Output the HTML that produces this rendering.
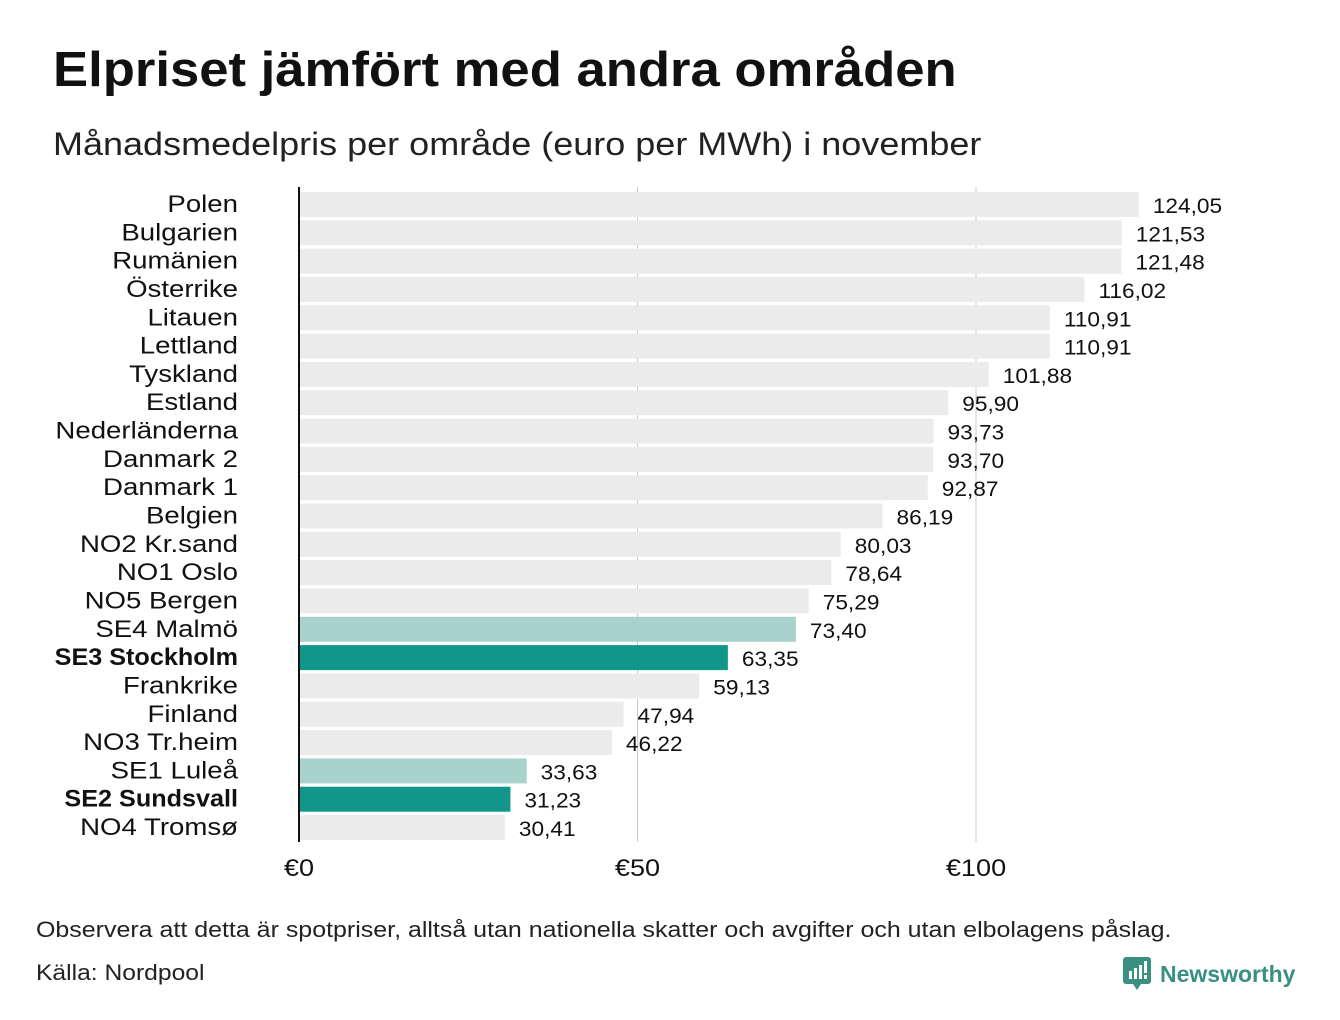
<!DOCTYPE html>
<html><head><meta charset="utf-8"><style>
body{margin:0;width:1340px;height:1020px;background:#fff;font-family:"Liberation Sans","DejaVu Sans",sans-serif;color:#111;position:relative;overflow:hidden}
.t{position:absolute;white-space:nowrap;transform-origin:0 0}
</style></head><body>
<div class="t" style="left:53px;top:42px;font-size:49px;font-weight:bold;transform:scaleX(1.074)">Elpriset jämfört med andra områden</div>
<div class="t" style="left:53px;top:126px;font-size:32px;color:#222;transform:scaleX(1.125)">Månadsmedelpris per område (euro per MWh) i november</div>
<svg id="chart" width="1340" height="900" style="position:absolute;left:0;top:0"></svg>
<div class="t" style="left:36px;top:917px;font-size:22px;color:#222;transform:scaleX(1.135)">Observera att detta är spotpriser, alltså utan nationella skatter och avgifter och utan elbolagens påslag.</div>
<div class="t" style="left:36px;top:960px;font-size:22px;color:#222;transform:scaleX(1.12)">Källa: Nordpool</div>
<div class="t" style="left:1123px;top:957px;display:flex;align-items:center">
<svg width="28" height="34" viewBox="0 0 28 34"><rect x="0" y="0" width="28" height="27" rx="3" fill="#3a8f83"/><path d="M10 27 L14 33 L18 27Z" fill="#3a8f83"/><rect x="6" y="14" width="3" height="8" fill="#fff"/><rect x="11" y="11" width="3" height="11" fill="#fff"/><rect x="16" y="8" width="3" height="14" fill="#fff"/><rect x="21" y="4" width="3" height="12" fill="#fff"/><rect x="21" y="18" width="3" height="4" fill="#fff"/></svg>
<span style="font-size:23px;font-weight:bold;color:#3a8f83;margin-left:9px">Newsworthy</span></div>
<script>
const categories=["Polen","Bulgarien","Rumänien","Österrike","Litauen","Lettland","Tyskland","Estland","Nederländerna","Danmark 2","Danmark 1","Belgien","NO2 Kr.sand","NO1 Oslo","NO5 Bergen","SE4 Malmö","SE3 Stockholm","Frankrike","Finland","NO3 Tr.heim","SE1 Luleå","SE2 Sundsvall","NO4 Tromsø"];
const values=[124.05,121.53,121.48,116.02,110.91,110.91,101.88,95.90,93.73,93.70,92.87,86.19,80.03,78.64,75.29,73.40,63.35,59.13,47.94,46.22,33.63,31.23,30.41];
const highlight=["","","","","","","","","","","","","","","","light","dark","","","","light","dark",""];
const ticks=[0,50,100];
const tickLabels=["€0","€50","€100"];
const svg=document.getElementById('chart');
const NS='http://www.w3.org/2000/svg';
const x=v=>299+v*6.77;
const y=i=>192+i*28.32;
function el(t,a){const e=document.createElementNS(NS,t);for(const k in a)e.setAttribute(k,a[k]);svg.appendChild(e);return e;}
ticks.forEach((t,i)=>{
 if(t>0){const g=el('line',{x1:x(t),x2:x(t),y1:187,y2:842,stroke:'#c9c9d6','stroke-width':1});
 
 }
 const l=el('text',{x:0,y:0,transform:'translate('+x(t)+',876) scale(1.13,1)','font-size':24,'text-anchor':'middle',fill:'#111','font-family':'Liberation Sans, sans-serif'});
 l.textContent=tickLabels[i];
 
 
});
categories.forEach((c,i)=>{
 const col=highlight[i]==='dark'?'#13968a':highlight[i]==='light'?'#a8d2cb':'#ebebeb';
 const b=el('rect',{x:x(0),y:y(i),width:x(values[i])-x(0),height:25,fill:col});
 
 
 const bold=highlight[i]==='dark';
 const lb=el('text',{x:0,y:0,transform:'translate(238,'+(y(i)+20)+') scale('+(bold?1.05:1.15)+',1)','font-size':24,'text-anchor':'end',fill:'#111','font-weight':bold?'bold':'normal','font-family':'Liberation Sans, sans-serif'});
 lb.textContent=c;
 
 
 const vl=el('text',{x:0,y:0,transform:'translate('+(x(values[i])+14)+','+(y(i)+21)+') scale(1.08,1)','font-size':21,fill:'#111','font-family':'Liberation Sans, sans-serif'});
 vl.textContent=values[i].toFixed(2).replace('.',',');
 
 
});
const ax=el('line',{x1:299,x2:299,y1:187,y2:842,stroke:'#111','stroke-width':2});


</script>
</body></html>
